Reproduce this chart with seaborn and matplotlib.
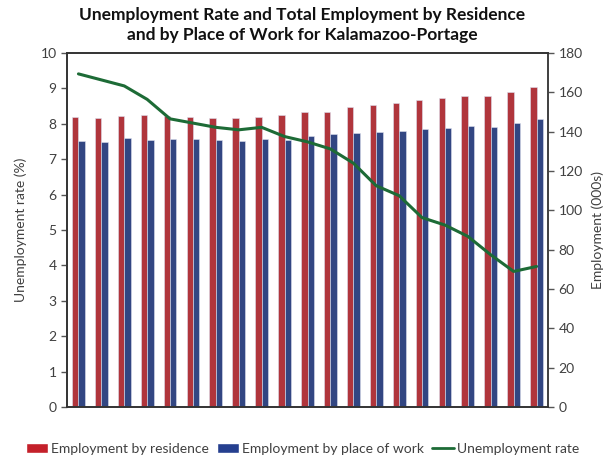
import numpy as np
import pandas as pd
import matplotlib
matplotlib.use("Agg")
import matplotlib.pyplot as plt
import seaborn as sns
from matplotlib.patches import Patch
from matplotlib.lines import Line2D

# quarterly, 2011 Q1 .. 2016 Q1
quarters = [f"{y}Q{q}" for y in range(2011, 2017) for q in range(1, 5)][:21]
by_residence = [147.7, 147.0, 148.2, 148.4, 148.0, 147.7, 147.0, 147.2, 147.7, 148.5, 150.1,
                150.1, 152.5, 153.6, 154.7, 156.2, 157.1, 157.9, 157.9, 160.0, 162.7]
by_work = [135.2, 134.8, 136.7, 135.7, 136.3, 136.2, 136.0, 135.2, 136.3, 136.0, 137.7,
           138.6, 139.2, 139.6, 140.2, 141.3, 141.8, 142.8, 142.6, 144.2, 146.2]
unemp_rate = [9.41, 9.24, 9.07, 8.69, 8.14, 8.02, 7.90, 7.83, 7.90, 7.64, 7.49,
              7.29, 6.89, 6.25, 5.97, 5.35, 5.14, 4.82, 4.30, 3.83, 3.97]
year_labels = ["2011", "2012", "2013", "2014", "2015", "2016"]

RED = "#C4202A"
BLUE = "#253F8F"
GREEN = "#1D6B36"
TXT = "#404040"

sns.set_theme(style="white")
plt.rcParams["font.family"] = ["Lato", "DejaVu Sans"]

bars = pd.DataFrame({
    "quarter": quarters * 2,
    "value": by_residence + by_work,
    "series": ["Employment by residence"] * 21 + ["Employment by place of work"] * 21,
})
line = pd.DataFrame({"pos": np.arange(len(quarters)), "rate": unemp_rate})

fig = plt.figure(figsize=(6.05, 4.58), dpi=100)
ax1 = fig.add_axes([67 / 605, 51 / 458, 481 / 605, 354 / 458])
ax2 = ax1.twinx()

sns.barplot(data=bars, x="quarter", y="value", hue="series", order=quarters,
            palette={"Employment by residence": RED, "Employment by place of work": BLUE},
            width=0.56, gap=0, edgecolor="#dde0ee", linewidth=0.4,
            legend=False, ax=ax2)
sns.lineplot(data=line, x="pos", y="rate", color=GREEN, linewidth=2.2, ax=ax1)

ax1.set_zorder(ax2.get_zorder() + 1)
ax1.patch.set_visible(False)

ax1.set_xlim(-0.5, 20.5)
ax2.set_xlim(-0.5, 20.5)
ax1.set_ylim(0, 10)
ax2.set_ylim(0, 180)
ax1.set_yticks(range(0, 11))
ax2.set_yticks(range(0, 181, 20))
ax1.set_xticks([-0.5, 3.5, 7.5, 11.5, 15.5, 19.5])
ax1.set_xticklabels(year_labels)
ax2.set_xticks([])

ax1.set_xlabel("")
ax2.set_xlabel("")
ax1.set_ylabel("Unemployment rate (%)", fontsize=10, color=TXT, labelpad=10)
ax2.set_ylabel("Employment (000s)", fontsize=10, color=TXT, labelpad=6)

for ax in (ax1, ax2):
    ax.tick_params(axis="both", labelsize=10, labelcolor=TXT, direction="out",
                   length=4, width=1, color="#555555")
    for s in ax.spines.values():
        s.set_color("#333333")
        s.set_linewidth(1.2)
ax2.spines["right"].set_color("#888888")
ax1.tick_params(axis="x", bottom=True, pad=8)
ax1.tick_params(axis="y", left=True)
ax2.tick_params(axis="y", right=True)

fig.suptitle("Unemployment Rate and Total Employment by Residence\n"
             "and by Place of Work for Kalamazoo-Portage",
             fontsize=12.5, fontweight="bold", color="#111111", y=0.985, linespacing=1.3)

handles = [Patch(facecolor=RED, label="Employment by residence"),
           Patch(facecolor=BLUE, label="Employment by place of work"),
           Line2D([0], [0], color=GREEN, lw=2, label="Unemployment rate")]
fig.legend(handles=handles, loc="lower center", bbox_to_anchor=(0.5, -0.02), ncol=3,
           frameon=False, fontsize=10, handlelength=1.6, handletextpad=0.2,
           columnspacing=0.6, labelcolor=TXT)

fig.savefig("out.png", dpi=100, facecolor="white")
